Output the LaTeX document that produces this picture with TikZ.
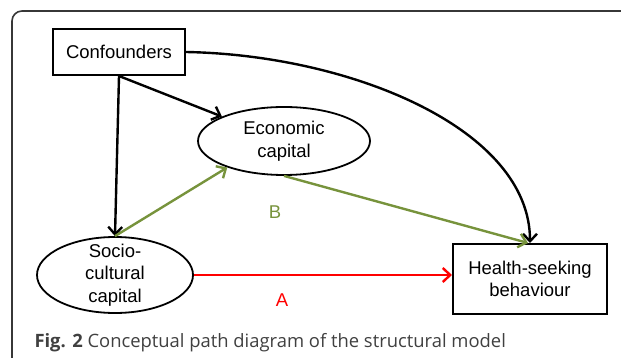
\documentclass[tikz,border=0pt]{standalone}
\usepackage{fontspec}
\setmainfont{Liberation Sans}
\newfontfamily\captionfont{Open Sans}
\usetikzlibrary{arrows.meta}
\usetikzlibrary{shapes.geometric}
\definecolor{olivegreen}{RGB}{119,147,60}
\definecolor{framegray}{RGB}{55,55,55}
\definecolor{captiongray}{RGB}{64,64,64}

\begin{document}
\begin{tikzpicture}[x=1pt, y=-1pt,
  every node/.style={font=\fontsize{18.5}{22.5}\selectfont},
  boxnode/.style={draw, line width=2pt, rectangle, align=center, inner sep=0pt},
  capnode/.style={draw, line width=1.8pt, ellipse, align=center, inner sep=0pt},
  pathline/.style={line width=2.4pt, -{Straight Barb[length=7.5pt,width=14pt]}}]

\useasboundingbox (0,0) rectangle (621,358);

% frame round the figure
\draw[framegray, line width=1.6pt, rounded corners=10pt] (12,358) |- (621,11);

% First, the variables of the model
\node[boxnode, minimum width=132, minimum height=46] (conf) at (119,52) {Confounders};
\node[capnode, minimum width=172, minimum height=68] (econ) at (284,141) {Economic\\capital};
\node[capnode, minimum width=156, minimum height=76, inner ysep=-5pt] (socio) at (115,275) {Socio-\\cultural\\capital};
\node[boxnode, minimum width=154, minimum height=70] (health) at (530,279) {Health-seeking\\behaviour};

% the paths, black ones first
\draw[pathline] (conf.south) -- (socio.north);
\draw[pathline] (conf.south) -- (econ);
\draw[pathline] (conf.east) .. controls +(165,3) and +(0,-114) .. (health.north);

% indirect path B and direct path A
\draw[pathline, olivegreen] (socio.north) -- (econ.205);
\draw[pathline, olivegreen] (econ.south) -- ([xshift=-2]health.north);
\draw[pathline, red] (socio.east) -- (socio.east -| health.west);

\node[text=olivegreen] (labB) at (275,212) {B};
\node[text=red] (labA) at (282,300) {A};

% caption
\node[anchor=base west, text=captiongray, font=\captionfont\fontsize{18.4}{22}\selectfont] (caption) at (31,347)
  {\textbf{Fig. 2} Conceptual path diagram of the structural model};

\end{tikzpicture}
\end{document}
